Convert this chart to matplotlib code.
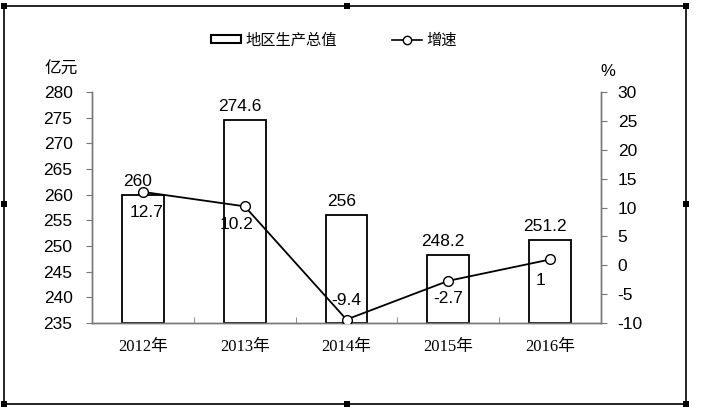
import matplotlib.pyplot as plt
from matplotlib.patches import Rectangle, Patch
from matplotlib.lines import Line2D
import numpy as np

plt.rcParams['font.family'] = ['Liberation Sans', 'Noto Sans CJK SC']
plt.rcParams['axes.unicode_minus'] = False

years = ['2012年', '2013年', '2014年', '2015年', '2016年']
gdp = [260, 274.6, 256, 248.2, 251.2]
growth = [12.7, 10.2, -9.4, -2.7, 1]
gdp_labels = ['260', '274.6', '256', '248.2', '251.2']
growth_labels = ['12.7', '10.2', '-9.4', '-2.7', '1']

fig = plt.figure(figsize=(7.1, 4.09), dpi=100)
ax = fig.add_axes([92 / 710, 86 / 409, 509 / 710, 231 / 409])
ax2 = ax.twinx()

x = np.arange(len(years))
ax.bar(x, [g - 235 for g in gdp], bottom=235, width=0.41, facecolor='white',
       edgecolor='black', linewidth=1.3, zorder=2)
ax.set_xlim(-0.5, 4.5)
ax.set_ylim(235, 280)
ax.set_yticks(range(235, 281, 5))
ax.set_xticks([])
ax.set_xticks(np.arange(-0.5, 4.6, 1), minor=True)
ax.tick_params(axis='x', which='minor', direction='in', length=4, color='#777777')
ax.tick_params(axis='y', direction='out', length=4, color='#777777', labelsize=12.5, pad=10)
for i, y in enumerate(years):
    ax.text(i, 230.4, y, ha='center', va='center', fontsize=12,
            family=['Liberation Serif', 'Noto Sans CJK SC'])
for i, (v, s) in enumerate(zip(gdp, gdp_labels)):
    ax.text(i - 0.05, v + 1.2, s, ha='center', va='bottom', fontsize=12.5)

ax2.plot(x, growth, color='black', linewidth=1.3, marker='o', markersize=7,
         markerfacecolor='white', markeredgecolor='black', zorder=3)
ax2.set_ylim(-10, 30)
ax2.set_yticks(range(-10, 31, 5))
ax2.tick_params(axis='y', direction='out', length=4, color='#777777', labelsize=12.5, pad=8)
label_off = [(0.04, -3.6), (-0.08, -3.1), (0.0, 3.3), (0.0, -3.1), (-0.09, -3.6)]
for i, (v, s) in enumerate(zip(growth, growth_labels)):
    dx, dy = label_off[i]
    ax2.text(i + dx, v + dy, s, ha='center', va='center', fontsize=12.5)

for a in (ax, ax2):
    a.spines['top'].set_visible(False)
    for sp in ('left', 'right', 'bottom'):
        a.spines[sp].set_color('#777777')
        a.spines[sp].set_linewidth(1.0)

fig.text(61 / 710, 1 - 69 / 409, '亿元', ha='center', va='center', fontsize=12,
         family=['Noto Sans CJK SC'])
fig.text(608 / 710, 1 - 71 / 409, '%', ha='center', va='center', fontsize=12)

handles = [Patch(facecolor='white', edgecolor='black', linewidth=1.5),
           Line2D([0], [0], color='black', linewidth=1.2, marker='o', markersize=6,
                  markerfacecolor='white')]
fig.legend(handles, ['地区生产总值', '增速'], loc='center', bbox_to_anchor=(0.47, 1 - 40 / 409),
           ncol=2, frameon=False, handlelength=2.0, handleheight=0.4, columnspacing=3.6,
           handletextpad=0.25, prop={'family': ['Noto Sans CJK SC'], 'size': 11})

# outer frame with selection handles
fig.add_artist(Rectangle((4 / 710, 1 - 404 / 409), 682 / 710, 398 / 409, transform=fig.transFigure,
                         fill=False, edgecolor='black', linewidth=1.2))
for hx, hy in [(4, 6), (347, 6), (686, 6), (4, 204), (686, 204), (4, 404), (347, 404), (686, 404)]:
    fig.add_artist(Rectangle(((hx - 3) / 710, 1 - (hy + 3) / 409), 6 / 710, 6 / 409,
                             transform=fig.transFigure, facecolor='black', edgecolor='none'))

plt.savefig('out.png', dpi=100)
plt.close()
